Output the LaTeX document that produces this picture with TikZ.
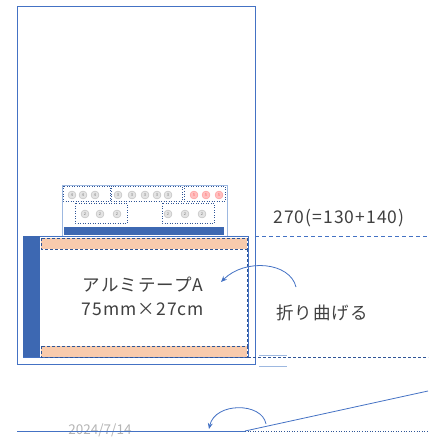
\documentclass[tikz,border=0pt]{standalone}
\usepackage{fontspec}
\newfontfamily\jp{Noto Sans CJK JP}
\newfontfamily\jpwide[LetterSpace=6]{Noto Sans CJK JP}
\usetikzlibrary{arrows.meta}
\definecolor{offblue}{HTML}{4472C4}
\definecolor{barblue}{HTML}{3D68B2}
\definecolor{darkdash}{HTML}{2F5597}
\definecolor{tapeorange}{HTML}{F8CBAD}
\definecolor{cardedge}{HTML}{9DB8E0}
\definecolor{txtgray}{HTML}{404040}
\definecolor{dategray}{HTML}{B4B4B4}
\tikzset{
  frame/.style={draw=offblue, line width=0.9pt},
  label/.style={font=\jpwide\fontsize{17.5}{20}\selectfont, text=txtgray, inner sep=0pt},
  guide/.style={draw=offblue, line width=0.8pt, dash pattern=on 4pt off 3pt},
  guidedark/.style={draw=darkdash, line width=0.7pt, dash pattern=on 3pt off 2pt},
  tapestrip/.style={fill=tapeorange, draw=darkdash, line width=0.6pt, dash pattern=on 3pt off 2pt},
  foldarrow/.style={draw=offblue, line width=0.8pt, -{Stealth[length=6pt,width=5pt]}},
  grp/.style={draw=darkdash, line width=0.5pt, dotted},
  dot/.style={circle, minimum size=8pt, inner sep=0pt, fill=gray!22, draw=gray!60, line width=0.3pt,
              font=\jp\fontsize{4}{4}\selectfont, text=gray},
  reddot/.style={dot, fill=red!25, draw=red!45, text=red!60}
}
\begin{document}
\begin{tikzpicture}[x=1pt,y=-1pt]
\useasboundingbox (0,0) rectangle (428,438);

% sheet outline
\draw[frame] (17,6) rectangle (255,364);

% terminal card on top of the tape area
\draw[draw=cardedge, line width=0.8pt, fill=white] (62,185) rectangle (227,236);
\fill[barblue] (64,227) rectangle (224,235);
\draw[grp] (63,186) rectangle (110,201);
\draw[grp] (111,186) rectangle (182,201);
\draw[grp] (184,186) rectangle (225,201);
\draw[grp] (75,203) rectangle (127,223);
\draw[grp] (162,203) rectangle (214,223);
\foreach \x/\n in {72/a1,83/a2,95/a3}{\node[dot] (\n) at (\x,195) {4};}
\foreach \x/\n in {118/b1,132/b2,145/b3,157/b4,168/b5}{\node[dot] (\n) at (\x,195) {3};}
\foreach \x/\n in {194/c1,206/c2,219/c3}{\node[reddot] (\n) at (\x,195) {5};}
\foreach \x/\n in {85/d1,100/d2,117/d3}{\node[dot] (\n) at (\x,214) {2};}
\foreach \x/\n in {168/e1,185/e2,202/e3}{\node[dot] (\n) at (\x,214) {2};}

% aluminium tape panel
\draw[draw=offblue, line width=0.8pt, fill=white] (23,236) rectangle (248,357);
\fill[barblue] (23,236) rectangle (40,357);
\draw[tapestrip] (41,238) rectangle (247,249);
\draw[tapestrip] (41,346) rectangle (247,357);
\draw[draw=darkdash, line width=0.6pt, dash pattern=on 3pt off 2pt] (247,249) -- (247,346);

\node[label] (tape) at (143,285) {アルミテープA};
\node[label] (size) at (143,309) {75mm×27cm};

% level guides
\draw[guide] (255,236) -- (428,236);
\node[label] (height) at (339,218) {270(=130+140)};
\draw[guidedark] (248,357) -- (428,357);
\draw[draw=cardedge, line width=0.8pt] (259,355) -- (287,355);
\draw[draw=cardedge, line width=0.8pt] (259,366) -- (287,366);

% fold instruction
\node[label] (fold) at (322,313) {折り曲げる};
\coordinate (foldfrom) at (296,287);
\coordinate (foldto) at (221,282);
\draw[foldarrow] (foldfrom) .. controls (290,262) and (245,258) .. (foldto);

% side view of the fold
\coordinate (hinge) at (245,431);
\coordinate (leftend) at (17,431);
\coordinate (rightend) at (428,431);
\coordinate (flap) at (428,391);
\node[font=\jp\fontsize{13.5}{14}\selectfont, text=dategray, inner sep=0pt] (date) at (100,430) {2024/7/14};
\draw[draw=offblue, line width=0.8pt] (leftend) -- (hinge);
\draw[draw=darkdash, line width=0.6pt, dotted] (hinge) -- (rightend);
\draw[draw=offblue, line width=0.8pt] (hinge) -- (flap);
\coordinate (arcfrom) at (266,424);
\coordinate (arcto) at (209,429);
\draw[foldarrow] (arcfrom) .. controls (262,402) and (215,402) .. (arcto);
\end{tikzpicture}
\end{document}
